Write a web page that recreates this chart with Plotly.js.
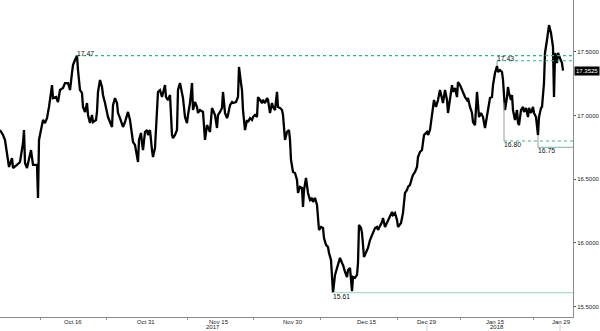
<!DOCTYPE html>
<html>
<head>
<meta charset="utf-8">
<script src="https://cdn.plot.ly/plotly-3.0.1.min.js"></script>
<style>html,body{margin:0;padding:0;background:#fff;}#chart{width:600px;height:331px;}</style>
</head>
<body>
<div id="chart"></div>
<script>
// bar index (time position along the trading axis)
const bars = [
  0,3,5,7,9,12,13,17,20,23,
  24,25,27,31,33,37,38,39,42,43,
  45,47,49,51,52,53,56,58,60,63,
  65,68,70,72,73,75,77,78,79,80,
  82,83,85,87,88,90,92,93,96,97,
  98,100,102,103,105,107,108,110,112,113,
  115,117,118,120,122,123,125,127,128,130,
  132,133,135,137,138,139,141,142,143,145,
  147,148,150,152,153,155,157,158,160,162,
  163,165,166,168,170,172,173,175,177,178,
  180,182,183,185,187,188,190,192,193,195,
  197,198,200,203,205,207,208,210,212,213,
  215,217,218,220,222,223,225,227,228,230,
  232,233,236,238,239,241,242,243,245,247,
  248,250,252,253,255,257,258,260,262,263,
  265,267,268,270,272,273,275,277,278,280,
  282,283,285,287,289,290,291,293,295,297,
  298,300,302,303,304,306,308,310,312,313,
  315,317,318,319,321,323,324,326,328,329,
  331,332,333,335,337,338,340,342,343,345,
  347,348,350,352,353,355,357,358,359,361,
  362,364,366,368,370,372,373,375,377,378,
  382,383,385,388,390,392,393,395,397,398,
  401,403,405,407,408,410,412,413,415,417,
  418,420,422,423,424,427,428,430,432,433,
  434,436,438,440,442,443,445,447,448,450,
  452,453,455,457,458,460,462,463,465,467,
  468,470,472,473,475,477,478,479,481,483,
  485,487,488,490,492,493,495,497,498,500,
  502,503,504,505,507,508,509,511,512,513,
  515,517,518,519,521,523,524,526,528,529,
  531,533,534,536,538,539,541,542,544,545,
  547,548,549,551,552,553,554,555,557,558,
  560,562,563
];
const prices = [
  16.886,16.847,16.808,16.690,16.596,16.666,16.588,16.612,16.635,16.784,
  16.886,16.627,16.588,16.729,16.612,16.612,16.353,16.808,16.910,16.965,
  16.941,16.980,17.067,17.177,17.239,17.137,17.145,17.106,17.200,17.216,
  17.255,17.255,17.200,17.334,17.396,17.436,17.470,17.357,17.255,17.200,
  17.177,17.067,17.028,17.098,17.004,16.941,17.004,16.949,16.965,17.028,
  17.185,17.279,17.224,17.161,17.098,17.028,16.988,16.949,16.910,17.082,
  17.137,17.098,17.020,16.980,16.925,16.910,16.949,17.004,17.028,16.965,
  16.847,16.792,16.769,16.674,16.635,16.808,16.863,16.784,16.729,16.871,
  16.886,16.847,16.886,16.729,16.674,16.745,16.988,17.185,17.200,17.145,
  17.177,17.239,17.145,17.122,17.161,16.847,16.823,16.847,16.886,17.200,
  17.255,17.161,17.137,16.988,16.941,17.004,17.098,17.255,17.043,17.106,
  17.067,17.020,17.043,17.028,16.808,16.925,16.902,16.871,17.059,17.043,
  17.004,16.902,17.004,17.028,17.059,17.185,17.020,16.980,17.004,17.082,
  17.106,17.098,17.106,17.145,17.381,17.255,17.200,17.043,16.886,16.965,
  16.949,16.980,16.965,16.988,17.004,16.988,17.145,17.122,17.098,17.122,
  17.098,17.137,17.122,17.020,17.098,17.067,17.043,17.185,17.067,17.059,
  17.043,17.004,16.808,16.871,16.886,16.808,16.651,16.557,16.549,16.494,
  16.392,16.439,16.431,16.282,16.415,16.510,16.392,16.337,16.353,16.321,
  16.353,16.298,16.180,16.101,16.125,16.117,16.038,15.984,15.968,15.921,
  15.866,15.764,15.610,15.748,15.803,15.842,15.882,15.842,15.827,15.772,
  15.732,15.787,15.803,15.620,15.732,15.725,15.748,15.842,16.141,16.117,
  16.078,15.889,15.921,15.960,16.022,16.062,16.078,16.117,16.125,16.101,
  16.164,16.196,16.125,16.180,16.203,16.243,16.219,16.235,16.180,16.125,
  16.156,16.235,16.392,16.415,16.439,16.455,16.510,16.533,16.557,16.596,
  16.674,16.714,16.729,16.784,16.847,16.871,16.847,16.886,17.020,17.067,
  17.122,17.067,17.122,17.200,17.145,17.098,17.200,17.122,17.020,17.145,
  17.239,17.185,17.216,17.145,17.263,17.239,17.200,17.177,17.145,17.122,
  17.137,17.067,17.020,16.949,16.925,17.185,17.043,16.988,17.020,16.988,
  16.902,17.020,17.043,17.137,17.145,17.239,17.334,17.389,17.342,17.357,
  17.342,17.279,17.098,17.043,17.145,17.224,17.177,17.122,17.161,17.043,
  16.965,17.043,16.941,16.925,17.043,17.067,17.028,17.059,16.988,17.059,
  17.020,17.067,17.020,16.988,16.847,16.988,17.059,17.067,17.255,17.491,
  17.593,17.671,17.710,17.648,17.608,17.538,17.145,17.491,17.412,17.491,
  17.451,17.412,17.3525
];

// x-axis labels
const labelBars  = [73, 146, 219, 293, 367, 427, 495, 561];
const labelTexts = ['Oct 16','Oct 31','Nov 15','Nov 30','Dec 15','Dec 29','Jan 15','Jan 29'];
const yearBars   = [213, 497];
const yearTexts  = ['2017', '2018'];
const tickBars   = [40, 106, 187, 253, 320, 397, 460, 533];
const sepBars    = [427, 560];

// y-axis ticks
const yTicks = [15.5, 16.0, 16.5, 17.0, 17.5];

// annotated high / low levels
const levelValues = [17.47, 17.43, 16.80, 16.75, 15.61];
const levelTexts  = ['17.47', '17.43', '16.80', '16.75', '15.61'];
const levelBars   = [77, 497, 504, 538, 333];
const levelAbove  = [true, true, false, false, false];
const levelDashed = [true, true, true, false, false];
const levelColors = ['#2fb594', '#2fb594', '#2fb594', '#8fc3b8', '#a9dccf'];

const lastPrice = 17.3525;

const xEnd = 573;
const PLOT_H = 317;
const FONT = 'Liberation Sans, Arial, sans-serif';

const shapes = [];
const annotations = [];
levelValues.forEach((v, i) => {
  const b = levelBars[i];
  const idx = bars.indexOf(b);
  const pv = idx >= 0 ? prices[idx] : v;
  if (Math.abs(pv - v) > 0.02) {
    shapes.push({type:'line', xref:'x', yref:'y', x0:b, x1:b, y0:pv, y1:v,
      line:{color:'#9a9a9a', width:1}});
  }
  shapes.push({type:'line', xref:'x', yref:'y', x0:b, x1:xEnd, y0:v, y1:v,
    line:{color:levelColors[i], width:1.2, dash: levelDashed[i] ? '3px,3px' : 'solid'}});
  annotations.push({xref:'x', yref:'y', x:b - 1, y:v, text:levelTexts[i], showarrow:false,
    xanchor:'left', yanchor: levelAbove[i] ? 'bottom' : 'top', yshift: levelAbove[i] ? -2 : 1,
    borderpad:0, font:{family:FONT, size:6.8, color:'#111'}});
});
sepBars.forEach(b => {
  shapes.push({type:'line', xref:'x', yref:'paper', x0:b, x1:b, y0:-8/PLOT_H, y1:-14/PLOT_H,
    line:{color:'#d0d0d0', width:1}});
});
labelBars.forEach((b, i) => {
  annotations.push({xref:'x', yref:'paper', x:b, y:-0.5/PLOT_H, text:labelTexts[i],
    showarrow:false, xanchor:'center', yanchor:'top', borderpad:0,
    font:{family:FONT, size:6, color:'#222'}});
});
yearBars.forEach((b, i) => {
  annotations.push({xref:'x', yref:'paper', x:b, y:-13.5/PLOT_H, text:yearTexts[i],
    showarrow:false, xanchor:'center', yanchor:'bottom', borderpad:0,
    font:{family:FONT, size:6, color:'#222'}});
});
annotations.push({xref:'paper', yref:'y', x:1, y:lastPrice, text:lastPrice.toFixed(4),
  showarrow:false, xanchor:'left', yanchor:'middle', xshift:1,
  bgcolor:'#000', borderpad:1, font:{family:FONT, size:6, color:'#fff'}});

const trace = {
  type:'scatter', mode:'lines', x:bars, y:prices,
  line:{color:'#000', width:2.3}, hoverinfo:'skip'
};

const layout = {
  width:600, height:331,
  margin:{l:0, r:27, t:0, b:14, pad:0},
  paper_bgcolor:'#fff', plot_bgcolor:'#fff',
  showlegend:false,
  font:{family:FONT, size:6, color:'#222'},
  xaxis:{
    range:[0, xEnd], showgrid:false, zeroline:false,
    showline:true, linecolor:'#8a8a8a', linewidth:1,
    tickmode:'array', tickvals:tickBars, ticks:'outside', ticklen:2, tickcolor:'#8a8a8a',
    showticklabels:false
  },
  yaxis:{
    side:'right', range:[15.418, 17.907], showgrid:false, zeroline:false,
    showline:true, linecolor:'#8a8a8a', linewidth:1,
    tickmode:'array', tickvals:yTicks, tickformat:'.4f',
    ticks:'outside', ticklen:2, tickcolor:'#555',
    tickfont:{family:FONT, size:6, color:'#222'}
  },
  shapes:shapes,
  annotations:annotations
};

Plotly.newPlot('chart', [trace], layout, {staticPlot:true, displayModeBar:false});
</script>
</body>
</html>
